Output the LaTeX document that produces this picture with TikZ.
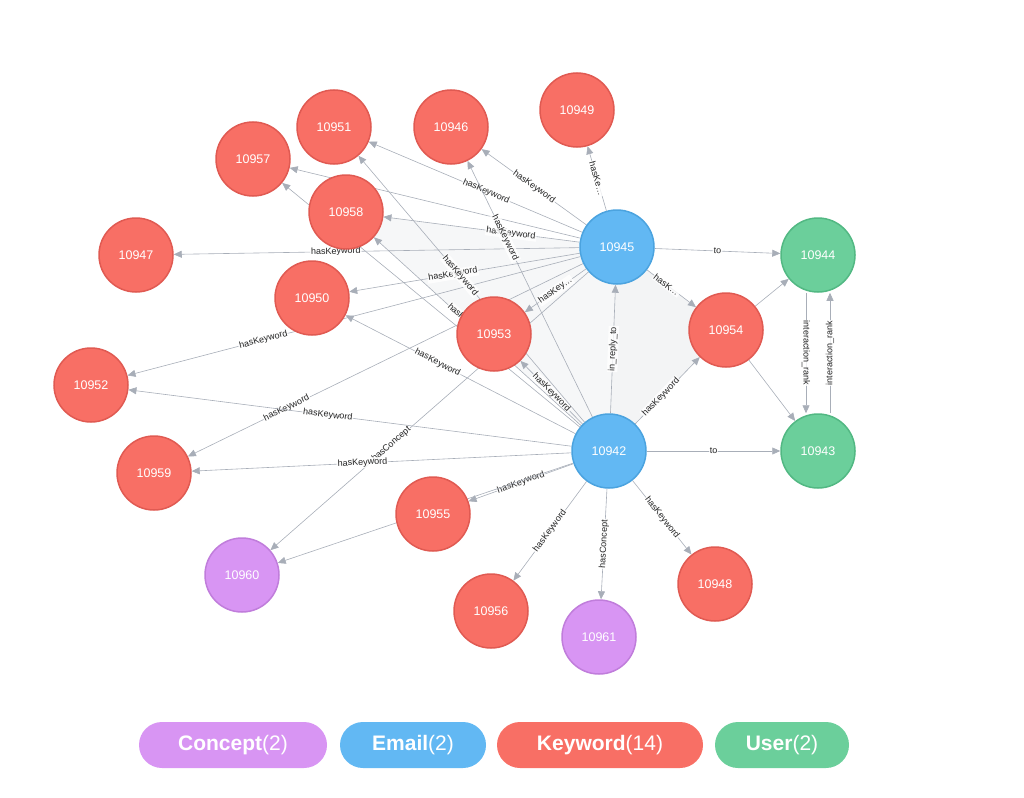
\documentclass[tikz,border=0pt]{standalone}
\usepackage{fontspec}
\setmainfont{Liberation Sans}
\usetikzlibrary{arrows.meta,backgrounds}
\definecolor{kw}{HTML}{F86F65}\definecolor{kwd}{HTML}{E05A52}
\definecolor{em}{HTML}{62B8F3}\definecolor{emd}{HTML}{4BA3DF}
\definecolor{us}{HTML}{6BCF9B}\definecolor{usd}{HTML}{52B883}
\definecolor{co}{HTML}{D895F3}\definecolor{cod}{HTML}{C07DDB}
\definecolor{ed}{HTML}{A8AEB8}
\begin{document}
\begin{tikzpicture}[x=1pt,y=-1pt,
 n/.style={circle,minimum size=74pt,inner sep=0pt,line width=1.5pt,text=white,font=\fontsize{12.5}{13}\selectfont},
 K/.style={n,fill=kw,draw=kwd},E/.style={n,fill=em,draw=emd},U/.style={n,fill=us,draw=usd},C/.style={n,fill=co,draw=cod},
 e/.style={draw=ed,line width=0.6pt,-{Triangle[length=8pt,width=7pt]}},
 l/.style={sloped,fill=white,fill opacity=0.8,text opacity=1,inner sep=1pt,font=\fontsize{9}{9}\selectfont,text=black!85},
 pill/.style={rounded corners=23pt,minimum height=46pt,text=white,font=\bfseries\fontsize{21}{21}\selectfont}]
\useasboundingbox (0,0) rectangle (1024,797);
\node[E] (a45) at (617,247) {10945};
\node[E] (a42) at (609,451) {10942};
\node[U] (a44) at (818,255) {10944};
\node[U] (a43) at (818,451) {10943};
\node[K] (a54) at (726,330) {10954};
\node[K] (a50) at (312,298) {10950};
\node[K] (a57) at (253,159) {10957};
\node[K] (a51) at (334,127) {10951};
\node[K] (a46) at (451,127) {10946};
\node[K] (a49) at (577,110) {10949};
\node[K] (a47) at (136,255) {10947};
\node[K] (a52) at (91,385) {10952};
\node[K] (a59) at (154,473) {10959};
\node[K] (a55) at (433,514) {10955};
\node[C] (a60) at (242,575) {10960};
\node[K] (a56) at (491,611) {10956};
\node[C] (a61) at (599,637) {10961};
\node[K] (a48) at (715,584) {10948};
\node[K] (a58) at (346,212) {10958};
\node[K] (a53) at (494,334) {10953};
\begin{scope}[on background layer]
\fill[ed!14] (a45.center)--(a42.center)--(a54.center)--cycle;
\fill[ed!10] (a45.center)--(a42.center)--(a58.center)--cycle;
\draw[e] (a45) -- node[l]{hasKe…} (a49);
\draw[e] (a45) -- node[l]{hasKeyword} (a46);
\draw[e] (a45) -- node[l,pos=.45]{hasKeyword} (a51);
\draw[e] (a45) -- node[l,pos=.35]{hasKeyword} (a58);
\draw[e] (a45) -- (a57);
\draw[e] (a45) -- node[l,pos=.6]{hasKeyword} (a47);
\draw[e] (a45) -- node[l,pos=.55]{hasKeyword} (a50);
\draw[e] (a45) -- node[l]{hasKey…} (a53);
\draw[e] (a45) -- node[l,pos=.4]{hasK…} (a54);
\draw[e] (a45) -- node[l,pos=.7]{hasKeyword} (a52);
\draw[e] (a45) -- node[l,pos=.75]{hasKeyword} (a59);
\draw[e] (a45) -- node[l,pos=.62]{hasConcept} (a60);
\draw[e] (a45) -- node[l]{to} (a44);
\draw[e] (a42) -- node[l]{in\_reply\_to} (a45);
\draw[e] (a42) -- node[l]{hasKeyword} (a53);
\draw[e] (a42) -- node[l,pos=.4]{hasKeyword} (a54);
\draw[e] (a42) -- node[l,pos=.55]{hasKeyword} (a58);
\draw[e] (a42) -- node[l,pos=.55]{hasKeyword} (a51);
\draw[e] (a42) -- node[l,pos=.7]{hasKeyword} (a46);
\draw[e] (a42) -- node[l,pos=.6]{hasKeyword} (a50);
\draw[e] (a42) -- (a57);
\draw[e] (a42) -- node[l,pos=.55]{hasKeyword} (a52);
\draw[e] (a42) -- node[l,pos=.55]{hasKeyword} (a59);
\draw[e] (a42) -- node[l]{hasKeyword} (a55);
\draw[e] (a42) -- node[l]{hasKeyword} (a56);
\draw[e] (a42) -- node[l]{hasConcept} (a61);
\draw[e] (a42) -- node[l]{hasKeyword} (a48);
\draw[e] (a42) -- (a60);
\draw[e] (a42) -- node[l]{to} (a43);
\draw[e] (a54) -- (a44);
\draw[e] (a54) -- (a43);
\draw[e] ([xshift=-12pt]a44.south) -- node[l]{interaction\_rank} ([xshift=-12pt]a43.north);
\draw[e] ([xshift=12pt]a43.north) -- node[l]{interaction\_rank} ([xshift=12pt]a44.south);
\end{scope}
\node[pill,fill=co,minimum width=188pt] (lc) at (233,745) {Concept\textmd{(2)}};
\node[pill,fill=em,minimum width=146pt] (le) at (413,745) {Email\textmd{(2)}};
\node[pill,fill=kw,minimum width=206pt] (lk) at (600,745) {Keyword\textmd{(14)}};
\node[pill,fill=us,minimum width=134pt] (lu) at (782,745) {User\textmd{(2)}};
\end{tikzpicture}
\end{document}
